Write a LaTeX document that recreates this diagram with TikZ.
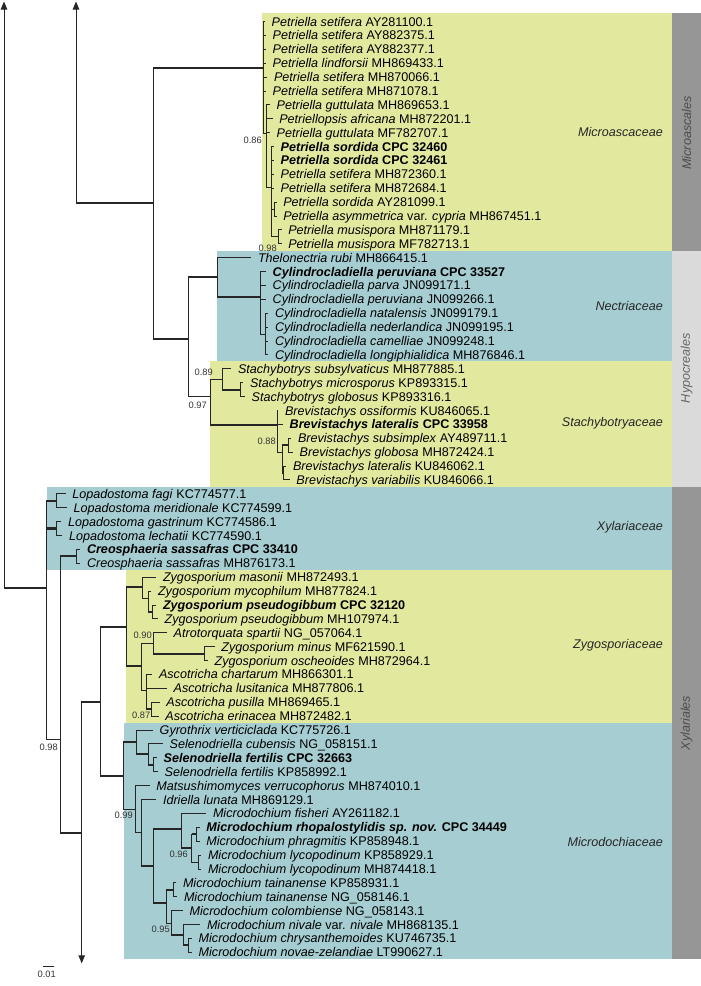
\documentclass[tikz,border=0pt]{standalone}
\usepackage{fontspec}
\setmainfont{Liberation Sans}
\usetikzlibrary{arrows.meta}
\definecolor{famyellow}{RGB}{226,233,159}
\definecolor{famblue}{RGB}{166,205,209}
\definecolor{orddark}{RGB}{150,150,150}
\definecolor{ordlight}{RGB}{218,218,218}
\newcommand{\tx}[2]{\textit{#1} #2}
\newcommand{\bx}[2]{\textbf{\textit{#1} #2}}
% rectangular branch: thin vertical, horizontal with optional style
\newcommand{\br}[3][]{\draw[branch] (#2) |- (#3); \draw[branch,#1] (#2 |- #3) -- (#3);}

\begin{document}
\begin{tikzpicture}[x=1pt, y=-1pt,
  branch/.style={draw=black!85, line width=0.9pt},
  bold/.style={line width=2.2pt},
  tax/.style={anchor=west, inner xsep=6.5pt, inner ysep=0pt, text height=9pt, text depth=0pt, font=\fontsize{12.6}{14}\selectfont},
  pp/.style={anchor=east, inner sep=0pt, font=\fontsize{9.3}{10}\selectfont, text=black!80},
  fam/.style={anchor=east, inner sep=0pt, font=\itshape\fontsize{12.6}{14}\selectfont, text=black!85},
  ord/.style={rotate=90, inner sep=0pt, font=\itshape\fontsize{12.6}{14}\selectfont},
  cut/.style={branch, -{Triangle[width=6.5pt,length=8pt]}}]
\useasboundingbox (0,0) rectangle (701,986);

% family boxes and order bars
\fill[famyellow] (262,13.3) rectangle (672,250.7);
\fill[famblue] (216.7,250.7) rectangle (672,361.3);
\fill[famyellow] (210,361.3) rectangle (672,487);
\fill[famblue] (46.7,487) rectangle (672,569.7);
\fill[famyellow] (126,569.7) rectangle (672,722.7);
\fill[famblue] (124.3,722.7) rectangle (672,959);
\fill[orddark] (672,13.3) rectangle (701,250.7);
\fill[ordlight] (672,250.7) rectangle (701,487);
\fill[orddark] (672,487) rectangle (701,959);

\node[fam] (fmic) at (663,132.3) {Microascaceae};
\node[fam] (fnec) at (663,305.7) {Nectriaceae};
\node[fam] (fsta) at (663,423) {Stachybotryaceae};
\node[fam] (fxyl) at (663,527.7) {Xylariaceae};
\node[fam] (fzyg) at (663,645) {Zygosporiaceae};
\node[fam] (fmdc) at (663,841.7) {Microdochiaceae};
\node[ord, text=black!70] (omic) at (686.5,133) {Microascales};
\node[ord, text=black!60] (ohyp) at (686.5,368) {Hypocreales};
\node[ord, text=black!70] (oxyl) at (686.5,723) {Xylariales};

% taxa
\node[tax] (t1) at (265,21.5) {\tx{Petriella setifera}{AY281100.1}};
\node[tax] (t2) at (266,35.4) {\tx{Petriella setifera}{AY882375.1}};
\node[tax] (t3) at (266,49.3) {\tx{Petriella setifera}{AY882377.1}};
\node[tax] (t4) at (266,63.2) {\tx{Petriella lindforsii}{MH869433.1}};
\node[tax] (t5) at (267.3,77.1) {\tx{Petriella setifera}{MH870066.1}};
\node[tax] (t6) at (266,91.0) {\tx{Petriella setifera}{MH871078.1}};
\node[tax] (t7) at (270,104.8) {\tx{Petriella guttulata}{MH869653.1}};
\node[tax] (t8) at (272.6,118.7) {\tx{Petriellopsis africana}{MH872201.1}};
\node[tax] (t9) at (270,132.6) {\tx{Petriella guttulata}{MF782707.1}};
\node[tax] (t10) at (274,146.5) {\bx{Petriella sordida}{CPC 32460}};
\node[tax] (t11) at (274,160.4) {\bx{Petriella sordida}{CPC 32461}};
\node[tax] (t12) at (274,174.3) {\tx{Petriella setifera}{MH872360.1}};
\node[tax] (t13) at (274,188.2) {\tx{Petriella setifera}{MH872684.1}};
\node[tax] (t14) at (276.6,202.1) {\tx{Petriella sordida}{AY281099.1}};
\node[tax] (t15) at (276.6,216.0) {\textit{Petriella asymmetrica} var. \textit{cypria} MH867451.1};
\node[tax] (t16) at (281.6,229.9) {\tx{Petriella musispora}{MH871179.1}};
\node[tax] (t17) at (281.6,243.7) {\tx{Petriella musispora}{MF782713.1}};
\node[tax] (t18) at (251.3,257.6) {\tx{Thelonectria rubi}{MH866415.1}};
\node[tax] (t19) at (266,271.5) {\bx{Cylindrocladiella peruviana}{CPC 33527}};
\node[tax] (t20) at (266,285.4) {\tx{Cylindrocladiella parva}{JN099171.1}};
\node[tax] (t21) at (266,299.3) {\tx{Cylindrocladiella peruviana}{JN099266.1}};
\node[tax] (t22) at (268.3,313.2) {\tx{Cylindrocladiella natalensis}{JN099179.1}};
\node[tax] (t23) at (268.3,327.1) {\tx{Cylindrocladiella nederlandica}{JN099195.1}};
\node[tax] (t24) at (268.3,341.0) {\tx{Cylindrocladiella camelliae}{JN099248.1}};
\node[tax] (t25) at (268.3,354.9) {\tx{Cylindrocladiella longiphialidica}{MH876846.1}};
\node[tax] (t26) at (231.3,368.8) {\tx{Stachybotrys subsylvaticus}{MH877885.1}};
\node[tax] (t27) at (243.3,382.7) {\tx{Stachybotrys microsporus}{KP893315.1}};
\node[tax] (t28) at (245,396.6) {\tx{Stachybotrys globosus}{KP893316.1}};
\node[tax] (t29) at (278.3,410.5) {\tx{Brevistachys ossiformis}{KU846065.1}};
\node[tax] (t30) at (283,424.4) {\bx{Brevistachys lateralis}{CPC 33958}};
\node[tax] (t31) at (291.3,438.3) {\tx{Brevistachys subsimplex}{AY489711.1}};
\node[tax] (t32) at (293,452.2) {\tx{Brevistachys globosa}{MH872424.1}};
\node[tax] (t33) at (286.3,466.0) {\tx{Brevistachys lateralis}{KU846062.1}};
\node[tax] (t34) at (289.7,479.9) {\tx{Brevistachys variabilis}{KU846066.1}};
\node[tax] (t35) at (65.7,493.8) {\tx{Lopadostoma fagi}{KC774577.1}};
\node[tax] (t36) at (67,507.7) {\tx{Lopadostoma meridionale}{KC774599.1}};
\node[tax] (t37) at (61.3,521.6) {\tx{Lopadostoma gastrinum}{KC774586.1}};
\node[tax] (t38) at (62.3,535.5) {\tx{Lopadostoma lechatii}{KC774590.1}};
\node[tax] (t39) at (80.3,549.4) {\bx{Creosphaeria sassafras}{CPC 33410}};
\node[tax] (t40) at (80.3,563.3) {\tx{Creosphaeria sassafras}{MH876173.1}};
\node[tax] (t41) at (156.3,577.2) {\tx{Zygosporium masonii}{MH872493.1}};
\node[tax] (t42) at (151.3,591.1) {\tx{Zygosporium mycophilum}{MH877824.1}};
\node[tax] (t43) at (156.3,605.0) {\bx{Zygosporium pseudogibbum}{CPC 32120}};
\node[tax] (t44) at (158,618.9) {\tx{Zygosporium pseudogibbum}{MH107974.1}};
\node[tax] (t45) at (167,632.8) {\tx{Atrotorquata spartii}{NG\_057064.1}};
\node[tax] (t46) at (214.7,646.7) {\tx{Zygosporium minus}{MF621590.1}};
\node[tax] (t47) at (208,660.6) {\tx{Zygosporium oscheoides}{MH872964.1}};
\node[tax] (t48) at (152.3,674.4) {\tx{Ascotricha chartarum}{MH866301.1}};
\node[tax] (t49) at (167,688.3) {\tx{Ascotricha lusitanica}{MH877806.1}};
\node[tax] (t50) at (159.7,702.2) {\tx{Ascotricha pusilla}{MH869465.1}};
\node[tax] (t51) at (158.7,716.1) {\tx{Ascotricha erinacea}{MH872482.1}};
\node[tax] (t52) at (153,730.0) {\tx{Gyrothrix verticiclada}{KC775726.1}};
\node[tax] (t53) at (163,743.9) {\tx{Selenodriella cubensis}{NG\_058151.1}};
\node[tax] (t54) at (157,757.8) {\bx{Selenodriella fertilis}{CPC 32663}};
\node[tax] (t55) at (158,771.7) {\tx{Selenodriella fertilis}{KP858992.1}};
\node[tax] (t56) at (149.7,785.6) {\tx{Matsushimomyces verrucophorus}{MH874010.1}};
\node[tax] (t57) at (156.3,799.5) {\tx{Idriella lunata}{MH869129.1}};
\node[tax] (t58) at (206.3,813.4) {\tx{Microdochium fisheri}{AY261182.1}};
\node[tax] (t59) at (199.7,827.3) {\bx{Microdochium rhopalostylidis sp. nov.}{CPC 34449}};
\node[tax] (t60) at (199.7,841.2) {\tx{Microdochium phragmitis}{KP858948.1}};
\node[tax] (t61) at (201.3,855.1) {\tx{Microdochium lycopodinum}{KP858929.1}};
\node[tax] (t62) at (201.3,869.0) {\tx{Microdochium lycopodinum}{MH874418.1}};
\node[tax] (t63) at (176.3,882.9) {\tx{Microdochium tainanense}{KP858931.1}};
\node[tax] (t64) at (177.3,896.8) {\tx{Microdochium tainanense}{NG\_058146.1}};
\node[tax] (t65) at (183,910.7) {\tx{Microdochium colombiense}{NG\_058143.1}};
\node[tax] (t66) at (200.3,924.6) {\textit{Microdochium nivale} var. \textit{nivale} MH868135.1};
\node[tax] (t67) at (192,938.4) {\tx{Microdochium chrysanthemoides}{KU746735.1}};
\node[tax] (t68) at (192,952.3) {\tx{Microdochium novae-zelandiae}{LT990627.1}};

% internal nodes
\coordinate (root) at (4,588.3);
\coordinate (mh0) at (76,203.3);
\coordinate (mh) at (153,203.3);
\coordinate (mic) at (263.3,67.7);
\coordinate (na) at (266.7,133);
\coordinate (nb) at (271.7,187);
\coordinate (nc) at (274,209.05);
\coordinate (nd) at (278.3,236.8);
\coordinate (hyp) at (188,338.7);
\coordinate (nect) at (217,277.3);
\coordinate (cyl) at (260,296.7);
\coordinate (cyls) at (265,334.05);
\coordinate (sta) at (210,396.7);
\coordinate (s089) at (222,379.2);
\coordinate (smg) at (240,389.65);
\coordinate (brev) at (277,425);
\coordinate (b1) at (282,452);
\coordinate (bsg) at (288.3,445.25);
\coordinate (blv) at (283.5,472.95);
\coordinate (xyl) at (46.7,588.3);
\coordinate (lop1) at (56.7,500.75);
\coordinate (lop2) at (56.7,528.55);
\coordinate (x60) at (60,739.3);
\coordinate (creo) at (76.7,556.35);
\coordinate (x82) at (81.7,832.7);
\coordinate (x100) at (100,701.7);
\coordinate (zyg) at (126,627);
\coordinate (zc) at (142.7,586.7);
\coordinate (za) at (148.3,598.3);
\coordinate (zb) at (152.7,611.95);
\coordinate (zq) at (141.7,666);
\coordinate (z090) at (153.3,643);
\coordinate (zmo) at (204,653.65);
\coordinate (asc) at (146.7,690);
\coordinate (asp) at (151.7,709.15);
\coordinate (mdc) at (123.3,776);
\coordinate (gy) at (136.7,742);
\coordinate (se) at (148.3,754.3);
\coordinate (fe) at (153.3,764.75);
\coordinate (ms) at (135,809);
\coordinate (idr) at (141.7,832.8);
\coordinate (mm) at (153.3,866);
\coordinate (fi) at (181.7,829.3);
\coordinate (g096) at (191.7,848);
\coordinate (rp) at (196.7,834.25);
\coordinate (ly) at (198.3,862.05);
\coordinate (lm) at (166.7,902.7);
\coordinate (ta) at (173.3,889.85);
\coordinate (p095) at (171.7,923);
\coordinate (n2) at (183.3,935);
\coordinate (cn) at (188.3,945.35);

% backbone and cut long branches
\draw[cut] (root) -- (4,1.5);
\draw[cut] (mh0) -- (76,1.5);
\draw[cut] (x82) -- (81.7,963.3);
\br[bold]{root}{xyl}
\br[bold]{mh0}{mh}
\br[bold]{mh}{mic} \br[bold]{mh}{hyp}

% Microascaceae
\br{mic}{t1} \br{mic}{t2} \br{mic}{t3} \br{mic}{t4} \br{mic}{t5} \br{mic}{t6} \br{mic}{na}
\br{na}{t7} \br{na}{t8} \br{na}{t9} \br{na}{nb}
\br{nb}{t10} \br{nb}{t11} \br{nb}{t12} \br{nb}{t13} \br{nb}{nc} \br{nb}{nd}
\br{nc}{t14} \br{nc}{t15} \br{nd}{t16} \br{nd}{t17}

% Hypocreales
\br[bold]{hyp}{nect} \br{hyp}{sta}
\br{nect}{t18} \br[bold]{nect}{cyl}
\br{cyl}{t19} \br{cyl}{t20} \br{cyl}{t21} \br{cyl}{cyls}
\br{cyls}{t22} \br{cyls}{t23} \br{cyls}{t24} \br{cyls}{t25}
\br{sta}{s089} \br[bold]{sta}{brev}
\br{s089}{t26} \br[bold]{s089}{smg} \br{smg}{t27} \br{smg}{t28}
\br{brev}{t29} \br{brev}{t30} \br{brev}{b1}
\br[bold]{b1}{bsg} \br{b1}{blv}
\br{bsg}{t31} \br{bsg}{t32} \br{blv}{t33} \br{blv}{t34}

% Xylariales
\br[bold]{xyl}{lop1} \br[bold]{xyl}{lop2} \br{xyl}{x60}
\br{lop1}{t35} \br{lop1}{t36} \br{lop2}{t37} \br{lop2}{t38}
\br[bold]{x60}{creo} \br[bold]{x60}{x82}
\br{creo}{t39} \br{creo}{t40}
\br[bold]{x82}{x100}
\br[bold]{x100}{zyg} \br[bold]{x100}{mdc}

% Zygosporiaceae
\br[bold]{zyg}{zc} \br[bold]{zyg}{zq}
\br{zc}{t41} \br{zc}{za} \br{za}{t42} \br[bold]{za}{zb} \br{zb}{t43} \br{zb}{t44}
\br{zq}{z090} \br{zq}{asc}
\br{z090}{t45} \br[bold]{z090}{zmo} \br{zmo}{t46} \br{zmo}{t47}
\br{asc}{t48} \br{asc}{t49} \br[bold]{asc}{asp} \br{asp}{t50} \br{asp}{t51}

% Microdochiaceae
\br[bold]{mdc}{gy} \br{mdc}{ms}
\br{gy}{t52} \br[bold]{gy}{se} \br{se}{t53} \br[bold]{se}{fe} \br{fe}{t54} \br{fe}{t55}
\br{ms}{t56} \br{ms}{idr} \br{idr}{t57} \br[bold]{idr}{mm}
\br[bold]{mm}{fi} \br[bold]{mm}{lm}
\br{fi}{t58} \br[bold]{fi}{g096}
\br[bold]{g096}{rp} \br{g096}{ly}
\br{rp}{t59} \br{rp}{t60} \br{ly}{t61} \br{ly}{t62}
\br[bold]{lm}{ta} \br{lm}{p095}
\br{ta}{t63} \br{ta}{t64}
\br{p095}{t65} \br[bold]{p095}{n2}
\br{n2}{t66} \br[bold]{n2}{cn}
\br{cn}{t67} \br{cn}{t68}

% posterior probabilities
\node[pp] (pp1) at (262,140) {0.86};
\node[pp] (pp2) at (277,248) {0.98};
\node[pp] (pp3) at (213,372.7) {0.89};
\node[pp] (pp4) at (207,405.7) {0.97};
\node[pp] (pp5) at (276,441.7) {0.88};
\node[pp] (pp6) at (58,747.7) {0.98};
\node[pp] (pp7) at (152,635.7) {0.90};
\node[pp] (pp8) at (150.5,715) {0.87};
\node[pp] (pp9) at (133,815) {0.99};
\node[pp] (pp10) at (188,854.3) {0.96};
\node[pp] (pp11) at (170,929.3) {0.95};

% scale bar
\draw[branch, line width=0.7pt] (43.3,966) -- (54.3,966);
\node[pp, anchor=center] (scale) at (46.7,974.5) {0.01};
\end{tikzpicture}
\end{document}
